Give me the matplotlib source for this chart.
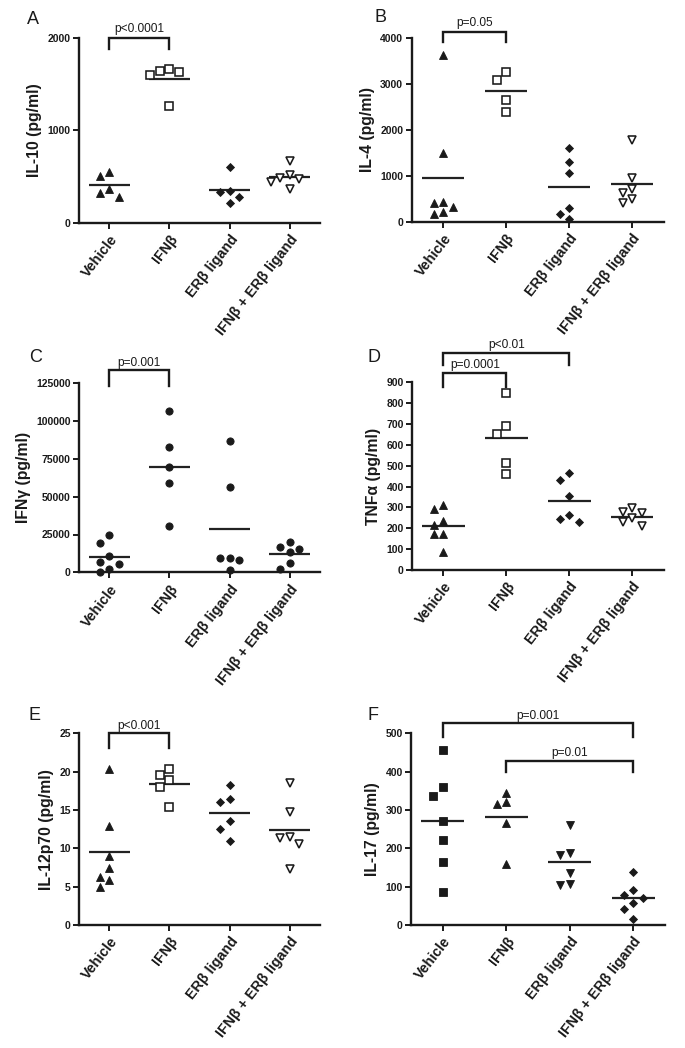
import numpy as np
import matplotlib
matplotlib.use("Agg")
import matplotlib.pyplot as plt

plt.rcParams['font.family'] = ['Liberation Sans', 'DejaVu Sans']

groups = ['Vehicle', 'IFNβ', 'ERβ ligand', 'IFNβ + ERβ ligand']

# ---- Panel A: IL-10 (pg/ml)
il10_vehicle = [551, 505, 361, 324, 275]
il10_ifnb = [1661, 1632, 1596, 1643, 1261]
il10_erb = [605, 340, 335, 281, 216]
il10_combo = [665, 520, 478, 468, 440, 368]
il10_ticks = [0, 1000, 2000]

# ---- Panel B: IL-4 (pg/ml)
il4_vehicle = [3623, 1500, 435, 400, 326, 217, 160]
il4_ifnb = [3261, 3080, 2646, 2391]
il4_erb = [1596, 1304, 1065, 291, 167, 52]
il4_combo = [1776, 943, 704, 617, 487, 413]
il4_ticks = [0, 1000, 2000, 3000, 4000]

# ---- Panel C: IFNγ (pg/ml)
ifng_vehicle = [24700, 19200, 10800, 7000, 5500, 2000, 400]
ifng_ifnb = [106900, 83100, 69400, 58900, 30600]
ifng_erb = [86800, 56200, 9700, 9300, 8100, 1500]
ifng_combo = [19800, 16500, 15200, 13600, 6000, 2000]
ifng_ticks = [0, 25000, 50000, 75000, 100000, 125000]

# ---- Panel D: TNFα (pg/ml)
tnfa_vehicle = [312, 291, 236, 216, 173, 173, 88]
tnfa_ifnb = [847, 690, 652, 512, 459]
tnfa_erb = [467, 432, 355, 264, 243, 232]
tnfa_combo = [296, 280, 272, 248, 232, 211]
tnfa_ticks = [0, 100, 200, 300, 400, 500, 600, 700, 800, 900]

# ---- Panel E: IL-12p70 (pg/ml)
il12_vehicle = [20.4, 12.9, 9.0, 7.4, 6.3, 5.9, 4.9]
il12_ifnb = [20.3, 19.6, 18.9, 18.0, 15.4]
il12_erb = [18.3, 16.4, 16.0, 13.6, 12.5, 11.0]
il12_combo = [18.5, 14.8, 11.5, 11.4, 10.6, 7.3]
il12_ticks = [0, 5, 10, 15, 20, 25]

# ---- Panel F: IL-17 (pg/ml)
il17_vehicle = [456, 359, 337, 271, 222, 165, 87]
il17_ifnb = [345, 322, 315, 265, 159]
il17_erb = [261, 189, 183, 135, 107, 104]
il17_combo = [137, 90, 78, 70, 58, 42, 15]
il17_ticks = [0, 100, 200, 300, 400, 500]

# ---- significance annotations: (group i, group j, label)
sig_A = [(0, 1, 'p<0.0001')]
sig_B = [(0, 1, 'p=0.05')]
sig_C = [(0, 1, 'p=0.001')]
sig_D = [(0, 1, 'p=0.0001'), (0, 2, 'p<0.01')]
sig_E = [(0, 1, 'p<0.001')]
sig_F = [(0, 3, 'p=0.001'), (1, 3, 'p=0.01')]

FW, FH = 685, 1048
fig = plt.figure(figsize=(FW / 100, FH / 100), dpi=100)

INK = '#1a1a1a'


def px_axes(l, r, top, bottom):
    return [l / FW, 1 - bottom / FH, (r - l) / FW, (bottom - top) / FH]


# marker styles: (marker, filled, size)
M_A = [('^', True, 5.8), ('s', False, 5.2), ('D', True, 4.4), ('v', False, 6.0)]
M_C = [('o', True, 5.2)] * 4
M_F = [('s', True, 5.2), ('^', True, 5.8), ('v', True, 5.8), ('D', True, 4.4)]

panels = [
    dict(letter='A', pos=(79, 320, 37.7, 222.7), data=[il10_vehicle, il10_ifnb, il10_erb, il10_combo],
         ticks=il10_ticks, ylabel='IL-10 (pg/ml)', markers=M_A, sig=sig_A,
         sig_pos=[(1.0, 0.939, 1.045)], letter_xy=(33, 20)),
    dict(letter='B', pos=(411.5, 663.5, 37.7, 221.7), data=[il4_vehicle, il4_ifnb, il4_erb, il4_combo],
         ticks=il4_ticks, ylabel='IL-4 (pg/ml)', markers=M_A, sig=sig_B,
         sig_pos=[(1.033, 0.978, 1.078)], letter_xy=(381, 18)),
    dict(letter='C', pos=(79, 320, 383.3, 572.3), data=[ifng_vehicle, ifng_ifnb, ifng_erb, ifng_combo],
         ticks=ifng_ticks, ylabel='IFNγ (pg/ml)', markers=M_C, sig=sig_C,
         sig_pos=[(1.070, 0.986, 1.108)], letter_xy=(36, 357)),
    dict(letter='D', pos=(412, 663.5, 382.3, 570), data=[tnfa_vehicle, tnfa_ifnb, tnfa_erb, tnfa_combo],
         ticks=tnfa_ticks, ylabel='TNFα (pg/ml)', markers=M_A, sig=sig_D,
         sig_pos=[(1.051, 0.977, 1.090), (1.155, 1.092, 1.197)], letter_xy=(374, 357)),
    dict(letter='E', pos=(79, 320, 733.3, 925), data=[il12_vehicle, il12_ifnb, il12_erb, il12_combo],
         ticks=il12_ticks, ylabel='IL-12p70 (pg/ml)', markers=M_A, sig=sig_E,
         sig_pos=[(1.0, 0.922, 1.036)], letter_xy=(34, 715)),
    dict(letter='F', pos=(411, 665, 733.3, 925), data=[il17_vehicle, il17_ifnb, il17_erb, il17_combo],
         ticks=il17_ticks, ylabel='IL-17 (pg/ml)', markers=M_F, sig=sig_F,
         sig_pos=[(1.052, 0.982, 1.090), (0.856, 0.800, 0.895)], letter_xy=(373, 715)),
]


def swarm_offsets(ax, vals, step_px=9.5, min_dist=8.5):
    """Simple deterministic beeswarm: returns x offsets in data units."""
    trans = ax.transData
    ypx = [trans.transform((0, v))[1] for v in vals]
    ppu = trans.transform((1, 0))[0] - trans.transform((0, 0))[0]
    order = sorted(range(len(vals)), key=lambda i: -vals[i])
    placed = []
    out = [0.0] * len(vals)
    for i in order:
        for s in [0, -1, 1, -2, 2, -3, 3]:
            ok = True
            for (ps, py) in placed:
                d = np.hypot((ps - s) * step_px, py - ypx[i])
                if d < min_dist:
                    ok = False
                    break
            if ok:
                placed.append((s, ypx[i]))
                out[i] = s * step_px / ppu
                break
    return out


for p in panels:
    ax = fig.add_axes(px_axes(*p['pos']))
    ax.set_xlim(-0.5, 3.5)
    ax.set_ylim(0, p['ticks'][-1])
    for side in ('top', 'right'):
        ax.spines[side].set_visible(False)
    for side in ('left', 'bottom'):
        ax.spines[side].set_linewidth(1.7)
        ax.spines[side].set_color(INK)
    ax.set_yticks(p['ticks'])
    ax.set_yticklabels([str(t) for t in p['ticks']], fontsize=7.5, fontweight='bold', color=INK)
    ax.set_xticks(range(4))
    ax.set_xticklabels(groups, rotation=52, ha='right', rotation_mode='anchor',
                       fontsize=10.3, fontweight='bold', color=INK)
    ax.tick_params(axis='y', length=4, width=1.4, pad=2, color=INK)
    ax.tick_params(axis='x', length=4, width=1.4, pad=3, color=INK)
    ax.set_ylabel(p['ylabel'], fontsize=11.3, fontweight='bold', color=INK, labelpad=4)

    for gi, vals in enumerate(p['data']):
        mk, filled, ms = p['markers'][gi]
        offs = swarm_offsets(ax, vals)
        xs = [gi + o for o in offs]
        ax.plot(xs, vals, linestyle='none', marker=mk, markersize=ms,
                markerfacecolor=INK if filled else 'white', markeredgecolor=INK,
                markeredgewidth=1.15 if not filled else 0.6, clip_on=False, zorder=3)
        m = np.mean(vals)
        ax.plot([gi - 0.34, gi + 0.34], [m, m], color='#222222', lw=1.6, zorder=2,
                solid_capstyle='butt')

    for (i, j, lab), (ytop, yleg, ytxt) in zip(p['sig'], p['sig_pos']):
        tr = ax.get_xaxis_transform()
        ax.plot([i, i, j, j], [yleg, ytop, ytop, yleg], transform=tr, color=INK, lw=1.7,
                clip_on=False, solid_joinstyle='miter')
        ax.text((i + j) / 2, ytxt, lab, transform=tr, ha='center', va='center',
                fontsize=8.6, color=INK)

    lx, ly = p['letter_xy']
    fig.text(lx / FW, 1 - ly / FH, p['letter'], ha='center', va='center', fontsize=13, color=INK)

fig.savefig('out.png', dpi=100)
